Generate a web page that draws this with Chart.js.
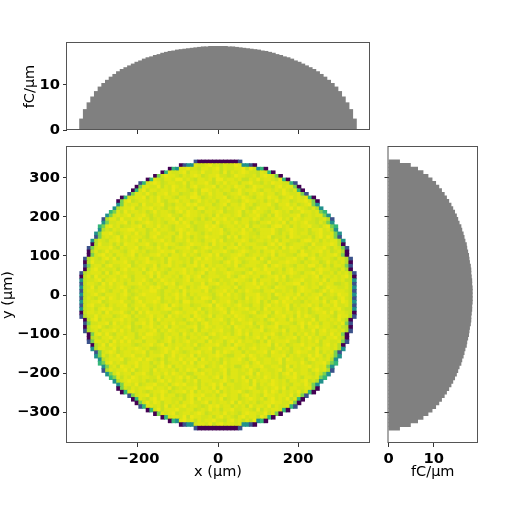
<!DOCTYPE html>
<html><head><meta charset="utf-8">
<style>html,body{margin:0;padding:0;background:#fff}canvas{position:absolute;left:0;top:0;filter:blur(0.3px)}#main{filter:blur(0.45px)}</style>
<script src="https://cdn.jsdelivr.net/npm/chart.js@4"></script></head><body>
<canvas id="main" width="510" height="509"></canvas>
<canvas id="top" width="510" height="509"></canvas>
<canvas id="right" width="510" height="509"></canvas>
<script>
const binWidth = 9.2;
const xProfile = [2.4,4.5,6.0,7.3,8.5,9.5,10.3,11.0,11.7,12.3,12.9,13.4,13.8,14.2,14.6,15.0,15.3,15.7,16.0,16.2,16.5,16.7,17.0,17.2,17.4,17.5,17.7,17.8,17.9,18.0,18.1,18.2,18.3,18.4,18.4,18.5,18.5,18.5,18.5,18.5,18.4,18.4,18.3,18.2,18.1,18.0,17.9,17.8,17.7,17.5,17.4,17.2,17.0,16.7,16.5,16.2,16.0,15.7,15.3,15.0,14.6,14.2,13.8,13.4,12.9,12.3,11.7,11.0,10.3,9.5,8.5,7.3,6.0,4.5,2.4];
const yProfile = [2.4,4.8,6.4,7.6,8.7,9.6,10.4,11.1,11.7,12.3,12.8,13.3,13.8,14.2,14.6,15.0,15.3,15.6,16.0,16.2,16.5,16.7,16.9,17.2,17.3,17.5,17.7,17.8,17.9,18.1,18.2,18.2,18.3,18.4,18.4,18.5,18.5,18.5,18.5,18.5,18.4,18.4,18.3,18.2,18.2,18.1,17.9,17.8,17.7,17.5,17.3,17.2,16.9,16.7,16.5,16.2,16.0,15.6,15.3,15.0,14.6,14.2,13.8,13.3,12.8,12.3,11.7,11.1,10.4,9.6,8.7,7.6,6.4,4.8,2.4];
const xTicks = [-200,0,200];
const yTicks = [-300,-200,-100,0,100,200,300];
const countTicks = [0,10];
// Rows of the density map, top to bottom; each digit is a colour level, rows are centred.
const rows = [
"1000000000 001",
"0122 8778978687798 2210",
"032 8897768878 9687788969 7 230",
"03 8778968879 7788696878 9877687 30",
"04 7988768789 8678897767 9887786898 7 40",
"03 8768879978 7688786997 8878668797 88769 30",
"13 7898678877 9687889768 7978868897 768798877 31",
"04 8877968798 7868977889 6878798867 9887768978 8 40",
"03 7968878879 7887686998 7878867978 8976887879 768 30",
"14 8879768897 8867789687 9788678897 6878978867 98778 41",
"03 7788968797 8876887998 6787889678 7987688798 867897878 30",
"04 8967887879 7688978867 9787868897 7689887868 7978867889 7 40",
"24 8788697788 9676887989 7788678968 8797867889 7688978678 9 42",
"25 7889678897 8768798878 6997887868 7889767988 7867889798 768 52",
"34 8697887867 9788768979 8876887896 7789687988 7689878677 98878 43",
"24 7878968897 6878897768 9887878697 8878967889 7686987788 9678788 42",
"15 8869778897 8678788969 7887686798 8978768879 8677889786 987887678 51",
"24 7788968678 9878768897 9868778869 7887978867 6889787968 878977686 42",
"34 8978677889 6887978768 8897677989 8678878796 8877689978 6878897768 9 43",
"25 7687889978 8679788768 9878677898 8967887978 6788897678 9877868897 8 52",
"24 8897678879 7868897788 6979887687 8897687898 7768889768 7987886789 778 42",
"14 7878969788 8768977886 8978687798 8876979688 7878896778 6988778689 798 41",
"25 8768897878 9687788978 6887978768 8979677889 8678878796 8877689978 68788 52",
"05 9778686988 7889768798 8767898878 6978878697 8887768979 8678887697 78898 50",
"14 7888976878 8967887978 6788897678 9877868897 8768889778 6979887687 8897687 41",
"05 8679788768 9878677898 8967887978 7688897678 9877868897 8778869778 8978678 50",
"04 7897868878 9687788978 6887978768 8979677889 8678878796 8877689978 6878897 40",
"15 8768979688 7878896778 6988778689 7987886789 7788969768 8778897868 977887688 51",
"05 9778678889 7687898878 6978878697 8887768979 8678887697 7889887687 886797878 50",
"14 7886897788 9678877968 8978768897 9687887879 6788877968 9878768879 978686887 41",
"05 8978778689 7887968978 7688897867 8979788678 8876987988 7868978877 689887768 50",
"15 7888696897 8778868979 7688789787 8968877898 7768978889 6787898768 8979778687 8 51",
"06 8697878878 9768887969 7887868978 9678887797 6898788678 8979687788 7896887878 9 60",
"26 7789688978 7868897687 9878778968 8879768778 9887696888 7978678897 7887968878 6 62",
"16 8876979788 6888978768 7989678887 7968897878 6878897978 7687889968 7879788667 8 61",
"26 7968878789 8767887989 7688798687 8997678887 9678889787 6988776898 7886798877 8 62",
"16 8878976887 9678788997 6887869788 8796788978 6879877688 9778786898 8767979888 7 61",
"26 7897688878 9767898887 6878979687 8887689797 8768889778 6987887968 7889678798 8 62",
"16 8768979878 8679778889 6887978768 7998678887 8769789878 6688979787 8896877689 7 61",
"26 7889678889 7768978898 6787869978 8876978897 6878789686 8979887768 7887968979 8 62",
"16 8977868788 9678897787 8969878867 7889698787 8977688689 7878968788 9786887977 8 61",
"26 7868989778 8769788687 8997768887 9678789868 7889778697 8887967878 6898778897 6 62",
"06 8878697889 7686979888 7768987889 7868778969 8877896788 6987887978 6788979688 7 60",
"15 7797888678 9868778978 8697878869 8779688787 9887678896 7889786979 8768887698 8 51",
"05 8968778897 8768879697 8887768979 8678897687 9878778689 7886978877 968878797 50",
"14 7788969787 8688979768 8797886786 8978878697 7889688767 9888768979 786887879 41",
"05 8897678878 9676889787 9688778896 7987887869 8878769788 9677887968 897887686 50",
"15 7868889797 8678878968 7987887696 8878897768 9787889678 8796887877 968978878 51",
"04 8979768878 8687998768 7886978787 6897878689 7968878897 6878687978 6887978 40",
"05 7688978798 8679887768 9787868878 9677898887 6878979688 7788968797 8768897 50",
"14 8878697979 7886888678 9687897788 6978868979 7887686978 8897768787 9688778 41",
"05 7969878887 6788978968 7887879678 8897686988 7787889697 8678897887 68978 50",
"25 8877968788 9878667898 7978886788 9677889868 7897887689 7868878969 78878 52",
"14 7898678878 8968778979 8767889788 6979878868 7788969878 7689887796 878 41",
"24 8687978897 7868889679 7887968778 8987668897 9878768889 6878779798 687 42",
"25 7888967889 7987686887 9788969787 8687889768 9778878969 8778689787 8 52",
"34 8978768897 8868796788 7979688878 7697888786 8978877968 8879767889 6 43",
"24 7869887978 8768979688 7887896787 9878668978 8977887696 878897878 42",
"15 8788979678 8697887868 7989678877 8968878797 6887789689 778868978 51",
"24 7978868897 6887979878 6688978787 9688778969 7887868979 7887686 42",
"34 8687987887 7968878979 7688878969 7887968787 9878678897 68878 43",
"25 7898878676 8979788687 9688877897 6878969788 7987868878 967 52",
"24 8879678897 7868989778 6878979688 7788696878 9878768879 7 42",
"04 7687889978 8796787889 6887969878 7788986787 8979688778 8 40",
"03 8978767889 8678897968 7887968788 9767887979 868787968 30",
"14 7889687978 8676898897 7868978868 9787698878 87968 41",
"03 8768979887 7868969788 8796788678 9878689787 968 30",
"04 7979868878 6889778968 7887969787 8678898877 9 40",
"13 8878696878 9788767989 7886878697 887968778 31",
"03 7968889778 8678797868 8977887696 87887 30",
"04 8789678878 9867887978 7689887796 8 40",
"03 7887969887 7868978768 9788697 30",
"032 8978687889 7768978686 9 230",
"0122 7887968978878 2210",
"1000000000 001"
];
const levels = ["#440154","#3b528b","#21918c","#35b779","#7ad151","#b5de2b","#c5e021","#d3e31a","#dfe516","#ebe715"];

const F = "DejaVu Sans";
const tickFont = {family:F,size:14.7,weight:"bold"};
const titleFont = {family:F,size:14.5};
const INK = "#000";
const minus = v => String(v).replace("-","\u2212");
const frame = {id:"frame",afterDatasetsDraw(c){const a=c.chartArea,x=c.ctx;x.save();x.strokeStyle="#555";x.lineWidth=1;
  x.strokeRect(a.left-.5,a.top-.5,a.right-a.left+1,a.bottom-a.top);x.restore();}};
function axis(o){
  const list=o.values, size=o.size;
  return {type:"linear",min:o.min,max:o.max,position:o.position,offset:false,
    grid:{display:true,offset:false,drawOnChartArea:false,drawTicks:true,tickLength:4,tickColor:"#333",tickWidth:1},
    border:{display:false},
    title:o.title?{display:true,text:o.title,font:titleFont,color:INK,padding:o.titlePad}:{display:false},
    ticks:{autoSkip:false,maxRotation:0,minRotation:0,font:tickFont,color:INK,padding:3,includeBounds:false,
      callback:v=>o.hide?"":minus(v)},
    afterBuildTicks(s){s.ticks=list.map(v=>({value:v}));},
    afterFit(s){if(s.isHorizontal())s.height=size;else s.width=size;s.paddingLeft=s.paddingRight=s.paddingTop=s.paddingBottom=0;}
  };
}
const base = {responsive:false,animation:false,events:[],plugins:{legend:{display:false},tooltip:{enabled:false}}};

const pts=[],cols=[];
rows.forEach((r,ri)=>{
  const s=r.replace(/ /g,"");
  const off=(s.length-1)/2;
  const yIndex=(rows.length-1)/2-ri;
  for(let i=0;i<s.length;i++){pts.push({x:(i-off)*binWidth,y:yIndex*binWidth});cols.push(levels[+s[i]]);}
});
new Chart(document.getElementById("main"),{type:"scatter",
  data:{datasets:[{data:pts,backgroundColor:cols,borderWidth:0,pointStyle:"rect",pointRadius:3.2,pointBorderWidth:0}]},
  options:{...base,layout:{padding:{left:0,top:147,right:141,bottom:0}},
    scales:{
      x:axis({min:-377,max:377,position:"bottom",values:xTicks,size:66,title:"x (\u00b5m)",titlePad:{top:0,bottom:28}}),
      y:axis({min:-378.5,max:378.5,position:"left",values:yTicks,size:67,title:"y (\u00b5m)",titlePad:{top:0,bottom:0}})
    }},plugins:[frame]});

const xCenters=xProfile.map((v,i)=>(i-(xProfile.length-1)/2)*binWidth);
const yCenters=yProfile.map((v,i)=>(i-(yProfile.length-1)/2)*binWidth);
new Chart(document.getElementById("top"),{type:"bar",
  data:{datasets:[{data:xProfile.map((v,i)=>({x:xCenters[i],y:v})),backgroundColor:"#808080",borderWidth:0,barPercentage:1,categoryPercentage:1,inflateAmount:0.6}]},
  options:{...base,layout:{padding:{left:0,top:43,right:141,bottom:374}},
    scales:{
      x:axis({min:-377,max:377,position:"bottom",values:xTicks,size:5,hide:true}),
      y:axis({min:0,max:19.3,position:"left",values:countTicks,size:67,title:"fC/\u00b5m",titlePad:{top:22,bottom:0}})
    }},plugins:[frame]});
new Chart(document.getElementById("right"),{type:"bar",
  data:{datasets:[{data:yProfile.map((v,i)=>({y:yCenters[i],x:v})),backgroundColor:"#808080",borderWidth:0,barPercentage:1,categoryPercentage:1,inflateAmount:0.6}]},
  options:{...base,indexAxis:"y",layout:{padding:{left:383.5,top:147,right:33,bottom:0}},
    scales:{
      x:axis({min:0,max:19.6,position:"bottom",values:countTicks,size:66,title:"fC/\u00b5m",titlePad:{top:0,bottom:28}}),
      y:axis({min:-378.5,max:378.5,position:"left",values:yTicks,size:5,hide:true})
    }},plugins:[frame]});
</script></body></html>
